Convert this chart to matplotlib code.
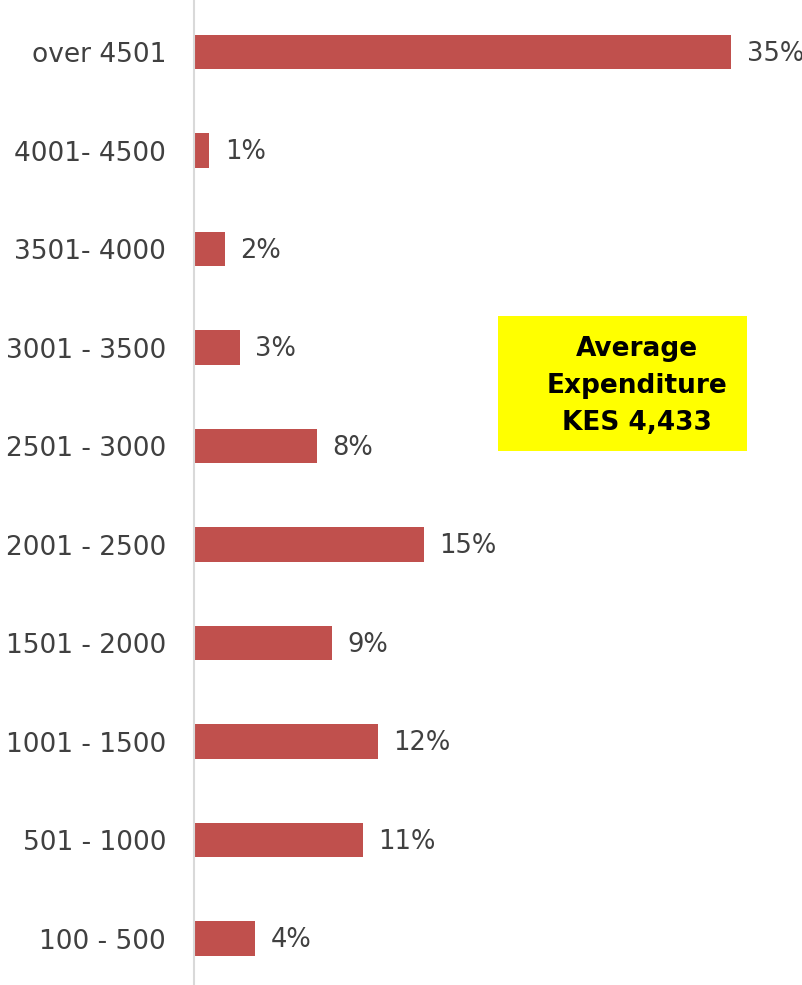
import matplotlib
matplotlib.use("Agg")
import matplotlib.pyplot as plt
from matplotlib.patches import Rectangle

categories = ["100 - 500", "501 - 1000", "1001 - 1500", "1501 - 2000", "2001 - 2500",
              "2501 - 3000", "3001 - 3500", "3501- 4000", "4001- 4500", "over 4501"]
shares = [4, 11, 12, 9, 15, 8, 3, 2, 1, 35]
value_labels = ["4%", "11%", "12%", "9%", "15%", "8%", "3%", "2%", "1%", "35%"]

bar_color = "#C0504D"
text_color = "#404040"

fig = plt.figure(figsize=(8.02, 9.85), dpi=100)
ax = fig.add_axes([194 / 802, 0.0, 1 - 194 / 802, 1.0])

y = range(len(categories))
ax.barh(y, shares, height=0.35, color=bar_color)
ax.set_xlim(0, 39.6)
ax.set_ylim(-0.47, 9.53)

for yi, v, lab in zip(y, shares, value_labels):
    ax.annotate(lab, (v, yi), xytext=(11, -1), textcoords="offset points",
                ha="left", va="center", fontsize=18.5, color=text_color)

ax.set_yticks(list(y))
ax.set_yticklabels(categories, fontsize=19, color=text_color)
ax.tick_params(axis="y", length=0, pad=20)
ax.set_xticks([])
for side in ("top", "right", "bottom"):
    ax.spines[side].set_visible(False)
ax.spines["left"].set_color("#D9D9D9")
ax.spines["left"].set_linewidth(1.5)

# highlighted average box
fig.patches.append(Rectangle((498 / 802, 1 - 451 / 985), (747 - 498) / 802, (451 - 316) / 985,
                             transform=fig.transFigure, facecolor="#FFFF00",
                             edgecolor="none", zorder=0.5))
fig.text(637 / 802, 1 - 386 / 985, "Average\nExpenditure\nKES 4,433",
         ha="center", va="center", fontsize=19, fontweight="bold", color="black",
         linespacing=1.55)

fig.savefig("out.png", dpi=100)
